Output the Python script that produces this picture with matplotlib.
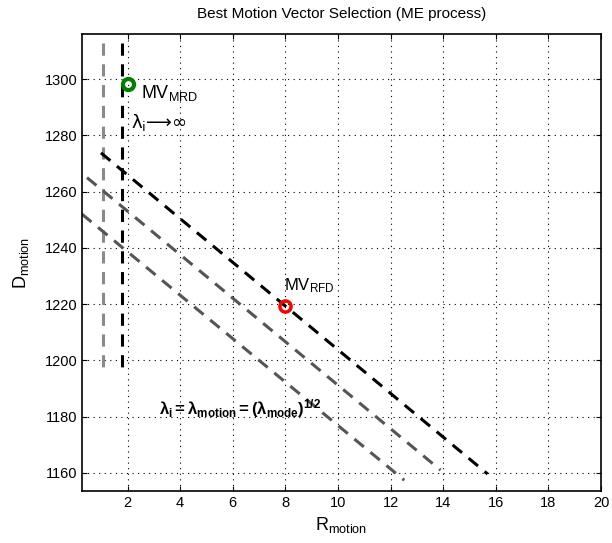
import matplotlib
matplotlib.use('Agg')
import matplotlib.pyplot as plt

plt.rcParams['font.family'] = ['Liberation Sans', 'DejaVu Sans']
plt.rcParams['mathtext.fontset'] = 'custom'
plt.rcParams['mathtext.rm'] = 'Liberation Sans'
plt.rcParams['mathtext.it'] = 'Liberation Sans:italic'
plt.rcParams['mathtext.bf'] = 'Liberation Sans:bold'

# vertical lambda -> inf lines (x, y_start, y_end)
vert_x = [1.05, 1.78]
vert_y0 = [1313, 1313]
vert_y1 = [1197, 1196]
vert_col = ['#8a8a8a', 'black']

# iso-cost lines (x_start, y_start) -> (x_end, y_end)
diag_x0 = [0.99, 0.46, 0.27]
diag_y0 = [1273.8, 1265.0, 1252.0]
diag_x1 = [15.69, 13.9, 12.52]
diag_y1 = [1159.6, 1161.0, 1157.4]
diag_col = ['black', '#555555', '#555555']

# selected motion vectors
mv_mrd = (2.0, 1298.2)
mv_rfd = (8.0, 1219.4)

fig = plt.figure(figsize=(6.12, 5.43), dpi=100)
ax = fig.add_axes([0.134, 0.096, 0.848, 0.841])

for x, y0, y1, c in zip(vert_x, vert_y0, vert_y1, vert_col):
    ax.plot([x, x], [y0, y1], color=c, lw=2.2, dashes=(4, 2.8))
for x0, y0, x1, y1, c in zip(diag_x0, diag_y0, diag_x1, diag_y1, diag_col):
    ax.plot([x0, x1], [y0, y1], color=c, lw=2.2, dashes=(4, 2.8))

ax.plot(*mv_mrd, 'o', mfc='none', mec='green', mew=3, ms=8)
ax.plot(*mv_rfd, 'o', mfc='none', mec='red', mew=2.5, ms=8)

ax.text(2.5, 1295, r'$\mathregular{MV_{MRD}}$', fontsize=13, va='center')
ax.text(2.15, 1284.5, r'$\mathregular{λ_{i}}$⟶∞', fontsize=13, va='center',
        family=['DejaVu Sans'])
ax.text(7.95, 1226.5, r'$\mathregular{MV_{RFD}}$', fontsize=12, va='center')
ax.text(3.2, 1183, r'$\mathregular{λ_i=λ_{motion}=(λ_{mode})^{1/2}}$',
        fontsize=12, va='center', fontweight='bold')

ax.set_xlim(0.27, 20)
ax.set_ylim(1153.6, 1316)
ax.set_xticks(range(2, 21, 2))
ax.set_yticks(range(1160, 1301, 20))
ax.grid(True, color='black', ls=(0, (1, 4)), lw=0.8)
ax.tick_params(direction='in', top=True, right=True, labelsize=10.5)
for s in ax.spines.values():
    s.set_linewidth(1.2)

ax.set_xlabel(r'$\mathregular{R_{motion}}$', fontsize=13)
ax.set_ylabel(r'$\mathregular{D_{motion}}$', fontsize=13, labelpad=10)
ax.set_title('Best Motion Vector Selection (ME process)', fontsize=11, pad=12)

fig.savefig('out.png', dpi=100)
